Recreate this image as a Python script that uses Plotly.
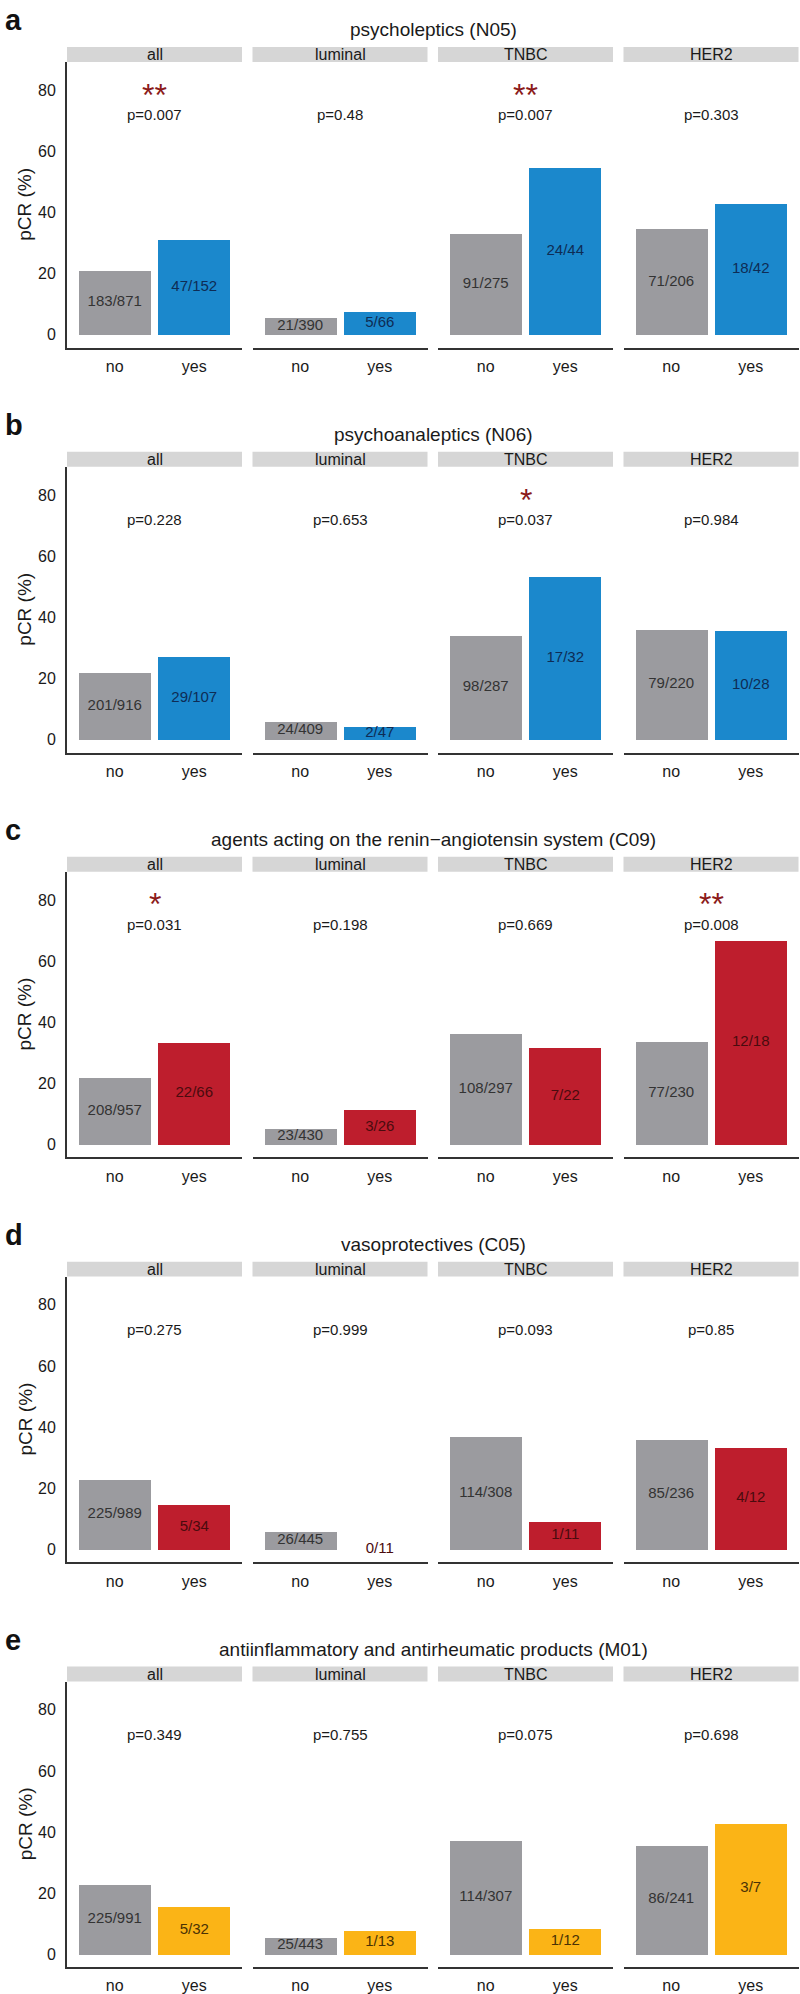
import plotly.graph_objects as go

# ---------------- data ----------------
panel_letters = ["a", "b", "c", "d", "e"]
panel_titles = [
    "psycholeptics (N05)",
    "psychoanaleptics (N06)",
    "agents acting on the renin\u2212angiotensin system (C09)",
    "vasoprotectives (C05)",
    "antiinflammatory and antirheumatic products (M01)",
]
subtypes = ["all", "luminal", "TNBC", "HER2"]
groups = ["no", "yes"]

# pCR (%) for "no" and "yes" groups, per panel, per subtype
pcr_no = [
    [21.0, 5.4, 33.1, 34.5],
    [21.9, 5.9, 34.1, 35.9],
    [21.7, 5.3, 36.4, 33.5],
    [22.8, 5.8, 37.0, 36.0],
    [22.7, 5.6, 37.1, 35.7],
]
pcr_yes = [
    [30.9, 7.6, 54.5, 42.9],
    [27.1, 4.3, 53.1, 35.7],
    [33.3, 11.5, 31.8, 66.7],
    [14.7, 0.0, 9.1, 33.3],
    [15.6, 7.7, 8.3, 42.9],
]
label_no = [
    ["183/871", "21/390", "91/275", "71/206"],
    ["201/916", "24/409", "98/287", "79/220"],
    ["208/957", "23/430", "108/297", "77/230"],
    ["225/989", "26/445", "114/308", "85/236"],
    ["225/991", "25/443", "114/307", "86/241"],
]
label_yes = [
    ["47/152", "5/66", "24/44", "18/42"],
    ["29/107", "2/47", "17/32", "10/28"],
    ["22/66", "3/26", "7/22", "12/18"],
    ["5/34", "0/11", "1/11", "4/12"],
    ["5/32", "1/13", "1/12", "3/7"],
]
p_values = [
    ["p=0.007", "p=0.48", "p=0.007", "p=0.303"],
    ["p=0.228", "p=0.653", "p=0.037", "p=0.984"],
    ["p=0.031", "p=0.198", "p=0.669", "p=0.008"],
    ["p=0.275", "p=0.999", "p=0.093", "p=0.85"],
    ["p=0.349", "p=0.755", "p=0.075", "p=0.698"],
]
stars = [
    ["**", "", "**", ""],
    ["", "", "*", ""],
    ["*", "", "", "**"],
    ["", "", "", ""],
    ["", "", "", ""],
]
yes_colors = ["#1B88CC", "#1B88CC", "#BE1E2D", "#BE1E2D", "#FBB416"]
yes_text_colors = ["#0E2C55", "#0E2C55", "#4A0B0E", "#4A0B0E", "#4A3205"]
no_color = "#9B9B9F"
no_text_color = "#333333"
y_ticks = [0, 20, 40, 60, 80]

# ---------------- layout geometry ----------------
W, H = 800, 1994
FONT = "Liberation Sans, Arial, Helvetica, sans-serif"
facet_x = [(67, 242), (252.5, 427.5), (438, 613), (623.5, 798.5)]
panel_step = 405.3
strip_top0, strip_bot0, plot_bot0 = 47, 62, 348
y_range = [-4.25, 89.25]
axis_color = "#333333"


def fx(px):
    return px / W


def fy(py):
    return 1 - py / H


fig = go.Figure()
layout = dict(
    width=W, height=H,
    margin=dict(l=0, r=0, t=0, b=0),
    paper_bgcolor="white", plot_bgcolor="white",
    showlegend=False,
    font=dict(family=FONT, color="#1a1a1a"),
)
annotations = []
shapes = []

for k in range(5):
    off = panel_step * k
    st, sb, pb = strip_top0 + off, strip_bot0 + off, plot_bot0 + off
    # panel letter
    annotations.append(dict(
        text="<b>%s</b>" % panel_letters[k], x=fx(3), y=fy(20 + off),
        xref="paper", yref="paper", xanchor="left", yanchor="middle",
        showarrow=False, font=dict(size=29, color="#111111", family=FONT)))
    # panel title
    annotations.append(dict(
        text=panel_titles[k], x=fx(433), y=fy(30 + off),
        xref="paper", yref="paper", xanchor="center", yanchor="middle",
        showarrow=False, font=dict(size=19, color="#1a1a1a", family=FONT)))
    # y-axis title
    annotations.append(dict(
        text="pCR (%)", x=fx(25), y=fy((sb + pb) / 2),
        xref="paper", yref="paper", xanchor="center", yanchor="middle",
        textangle=-90, showarrow=False,
        font=dict(size=19, color="#1a1a1a", family=FONT)))
    for j in range(4):
        n = k * 4 + j + 1
        xa = "xaxis" if n == 1 else "xaxis%d" % n
        ya = "yaxis" if n == 1 else "yaxis%d" % n
        xr = "x" if n == 1 else "x%d" % n
        yr = "y" if n == 1 else "y%d" % n
        x0, x1 = facet_x[j]
        layout[xa] = dict(
            domain=[fx(x0), fx(x1)], anchor=yr, range=[-0.6, 1.6],
            tickvals=[0, 1], ticktext=groups, showgrid=False, zeroline=False,
            showline=True, linecolor=axis_color, linewidth=2,
            ticks="outside", ticklen=3, tickcolor="rgba(0,0,0,0)",
            tickfont=dict(size=16, color="#1a1a1a", family=FONT), fixedrange=True)
        layout[ya] = dict(
            domain=[fy(pb), fy(sb)], anchor=xr, range=y_range,
            tickvals=y_ticks, showgrid=False, zeroline=False,
            showline=(j == 0), linecolor=axis_color, linewidth=2,
            showticklabels=(j == 0),
            ticks="outside" if j == 0 else "", ticklen=6,
            tickcolor="rgba(0,0,0,0)",
            tickfont=dict(size=16, color="#1a1a1a", family=FONT), fixedrange=True)
        # strip
        shapes.append(dict(
            type="rect", xref="paper", yref="paper",
            x0=fx(x0), x1=fx(x1), y0=fy(sb), y1=fy(st),
            fillcolor="#D6D6D6", line=dict(width=0), layer="below"))
        annotations.append(dict(
            text=subtypes[j], x=fx((x0 + x1) / 2), y=fy((st + sb) / 2),
            xref="paper", yref="paper", xanchor="center", yanchor="middle",
            showarrow=False, font=dict(size=16, color="#1a1a1a", family=FONT)))
        # bars
        yv = [pcr_no[k][j], pcr_yes[k][j]]
        fig.add_trace(go.Bar(
            x=[0, 1], y=yv, width=0.9,
            marker=dict(color=[no_color, yes_colors[k]], line=dict(width=0)),
            xaxis=xr, yaxis=yr, hoverinfo="skip"))
        # bar labels at half height
        fig.add_trace(go.Scatter(
            x=[0, 1], y=[v / 2 for v in yv], mode="text",
            text=[label_no[k][j], label_yes[k][j]],
            textposition="middle center",
            textfont=dict(size=15, family=FONT,
                          color=[no_text_color, yes_text_colors[k]]),
            xaxis=xr, yaxis=yr, hoverinfo="skip", cliponaxis=False))
        # p value
        annotations.append(dict(
            text=p_values[k][j], x=0.5, y=72, xref=xr, yref=yr,
            xanchor="center", yanchor="middle", showarrow=False,
            font=dict(size=15, color="#1a1a1a", family=FONT)))
        if stars[k][j]:
            annotations.append(dict(
                text=stars[k][j], x=0.5, y=81.5, xref=xr, yref=yr,
                xanchor="center", yanchor="middle", yshift=-9, showarrow=False,
                font=dict(size=32, color="#8B1A1A", family=FONT)))

layout["annotations"] = annotations
layout["shapes"] = shapes
layout["bargap"] = 0
fig.update_layout(**layout)
fig.write_html(
    "out.html",
    config={"displayModeBar": False},
    post_script="document.body.style.margin='0';document.body.style.padding='0';",
)
